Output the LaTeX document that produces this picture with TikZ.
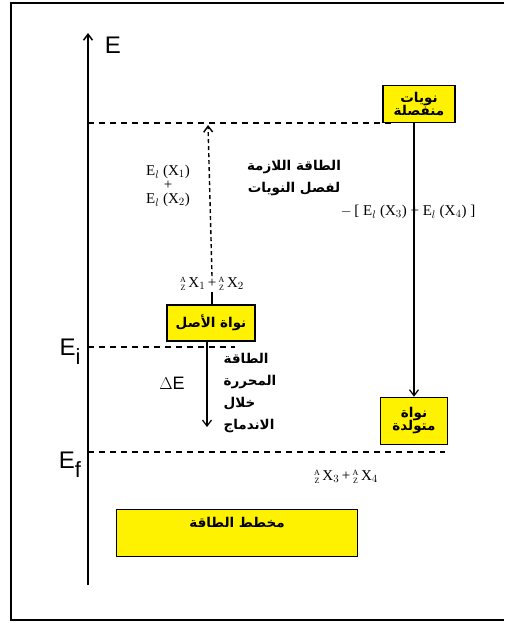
\documentclass[tikz,border=0pt]{standalone}
\usepackage{fontspec}
\setmainfont{Liberation Serif}
\setsansfont{Liberation Sans}
\newfontfamily\arabicfont[Script=Arabic]{DejaVu Sans}
\TeXXeTstate=1
\usetikzlibrary{arrows.meta}
\newcommand{\artxt}[1]{{\arabicfont\beginR #1\endR}}
\newcommand{\nucl}[1]{\raisebox{-3pt}{\fontsize{8}{8.5}\selectfont\shortstack{A\\Z}}\,X$_{#1}$}
\tikzstyle{ybox}=[draw=black,line width=1.6pt,fill=yellow,inner sep=2pt,align=center,font=\arabicfont\bfseries\fontsize{13.5}{16}\selectfont]
\tikzstyle{level}=[dash pattern=on 6pt off 5pt,line width=1.5pt]
\tikzstyle{arrow}=[line width=1.2pt,-{Straight Barb[length=6pt,width=9pt]}]
\tikzstyle{formula}=[inner sep=1pt,font=\fontsize{15}{17}\selectfont]
\tikzstyle{artext}=[inner sep=1pt,font=\arabicfont\bfseries\fontsize{13.5}{22}\selectfont]
\tikzstyle{big}=[inner sep=0pt,font=\sffamily\fontsize{24}{26}\selectfont]

\begin{document}
\begin{tikzpicture}[x=1pt,y=-1pt]
\useasboundingbox (0,0) rectangle (504,623);
% frame
\draw[line width=2pt] (504,3) -| (11,620) -- (504,620);

% energy axis
\coordinate (axisbot) at (88,585);
\coordinate (axistop) at (88,33);
\draw[arrow,line width=1.5pt] (axisbot) -- (axistop);
\node[big] (Elab) at (113,45) {E};
\node[big] (Eilab) at (70,352) {E\raisebox{-9pt}{\fontsize{22}{22}\selectfont i}};
\node[big] (Eflab) at (70,465) {E\raisebox{-9pt}{\fontsize{22}{22}\selectfont f}};

% boxes
\node[ybox,minimum width=72pt,minimum height=37pt] (nsep) at (419,104) {\artxt{نويات}\\[-3pt]\artxt{منفصلة}};
\node[ybox,minimum width=88pt,minimum height=36pt] (parent) at (211,323) {\artxt{نواة الأصل}};
\node[ybox,minimum width=67pt,minimum height=47pt] (nmut) at (414,421) {\artxt{نواة}\\[-3pt]\artxt{متولدة}};
\node[ybox,minimum width=241pt,text height=16pt,text depth=27pt] (chart) at (237,533) {\artxt{مخطط الطاقة}};

% levels
\coordinate (top0) at (88,123);
\coordinate (top1) at (395,123);
\coordinate (ei0) at (88,347);
\coordinate (ei1) at (235,347);
\coordinate (ef0) at (88,452);
\coordinate (ef1) at (445,452);
\foreach \a/\b in {top0/top1,ei0/ei1,ef0/ef1}
	\draw[level] (\a)--(\b);

% nuclides
\node[formula] (fA) at (212,284) {\nucl{1}\,+\,\nucl{2}};
\node[formula] (fB) at (346,477) {\nucl{3}\,+\,\nucl{4}};
\node[formula,align=center] (bind) at (168,186) {E$_l$ (X$_1$)\\[-3pt]+\\[-3pt]E$_l$ (X$_2$)};
\node[formula] (bind2) at (408,212) {$-$\,[ E$_l$ (X$_3$) + E$_l$ (X$_4$) ]};

% texts
\node[artext,align=center] (needed) at (294,178) {\artxt{الطاقة اللازمة}\\\artxt{لفصل النويات}};
\node[artext,align=left] (freed) at (250,393) {\artxt{الطاقة}\\\artxt{المحررة}\\\artxt{خلال}\\\artxt{الاندماج}};
\node[inner sep=0pt,font=\sffamily\fontsize{18}{18}\selectfont] (dE) at (172,383) {$\Delta$E};

% arrows
\coordinate (toparr) at (208,125);
\coordinate (dEend) at (207,427);
\draw[line width=1.2pt] (parent.north -| fA) -- (fA.south);
\draw[arrow,dash pattern=on 4pt off 3pt,line width=1.4pt] (fA.north) -- (toparr);
\draw[arrow] (parent.south -| dEend) -- (dEend);
\draw[arrow] (nsep.south -| nmut.north) -- (nmut.north);
\end{tikzpicture}
\end{document}
